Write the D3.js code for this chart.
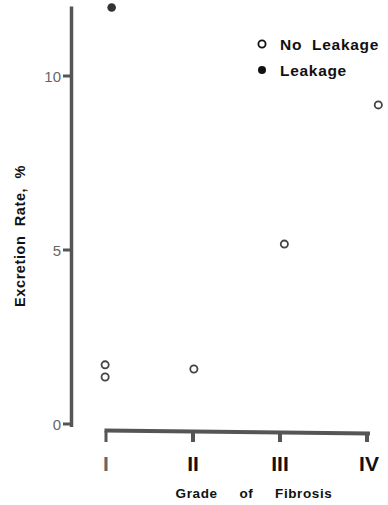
<!DOCTYPE html>
<html>
<head>
<meta charset="utf-8">
<script src="https://cdn.jsdelivr.net/npm/d3@7"></script>
<style>
  body { margin: 0; background: #fff; }
  svg { display: block; font-family: "Liberation Sans", Arial, sans-serif; }
</style>
</head>
<body>
<div id="chart"></div>
<script>
// grade labels
const grades = [1, 2, 3, 4];
const gradeLabels = ['I', 'II', 'III', 'IV'];
const yTicks = [0, 5, 10];

// No leakage points (grade position, excretion rate %)
const noLeakGrade = [0.99, 0.99, 2.01, 3.05, 4.13];
const noLeakRate = [1.70, 1.35, 1.58, 5.17, 9.17];

// Leakage points
const leakGrade = [1.065];
const leakRate = [11.97];

const W = 388, H = 505;
const svg = d3.select('#chart').append('svg').attr('width', W).attr('height', H);

const x = d3.scaleLinear().domain([1, 4]).range([106, 367]);
const y = d3.scaleLinear().domain([0, 10]).range([424, 76]);

const axisColor = '#555';

// Y axis line
svg.append('line')
  .attr('x1', 71.5).attr('x2', 71.5)
  .attr('y1', y(12)).attr('y2', y(0) + 3)
  .attr('stroke', axisColor).attr('stroke-width', 3.5);

// Y ticks
const yt = svg.append('g');
yt.selectAll('line').data(yTicks).enter().append('line')
  .attr('x1', 63).attr('x2', 72)
  .attr('y1', (d) => y(d)).attr('y2', (d) => y(d))
  .attr('stroke', axisColor).attr('stroke-width', 3);
yt.selectAll('text').data(yTicks).enter().append('text')
  .attr('x', 61).attr('y', (d) => y(d) + 5.5)
  .attr('text-anchor', 'end')
  .attr('font-size', '15px')
  .attr('fill', '#666')
  .text((d) => d);

// X axis line (slightly tilted, as in the print)
svg.append('line')
  .attr('x1', x(1) - 1.5).attr('y1', 430.5)
  .attr('x2', x(4) + 3).attr('y2', 433.5)
  .attr('stroke', axisColor).attr('stroke-width', 4);

// X ticks
svg.append('g').selectAll('line').data(grades).enter().append('line')
  .attr('x1', (d) => x(d)).attr('x2', (d) => x(d))
  .attr('y1', (d, i) => 431 + i * 1).attr('y2', 442)
  .attr('stroke', axisColor).attr('stroke-width', (d, i) => (i === 0 ? 3 : 4));

// X tick labels
svg.append('g').selectAll('text').data(grades).enter().append('text')
  .attr('x', (d) => x(d) + (d === 4 ? 2 : 0))
  .attr('y', 471)
  .attr('text-anchor', 'middle')
  .attr('font-size', '21px')
  .attr('font-weight', 'bold')
  .attr('fill', (d, i) => (i === 0 ? '#666' : '#111'))
  .text((d, i) => gradeLabels[i]);

// X axis title
svg.append('text')
  .attr('x', 254).attr('y', 498)
  .attr('text-anchor', 'middle')
  .attr('font-size', '13.5px')
  .attr('font-weight', 'bold')
  .attr('letter-spacing', '0.6px')
  .attr('fill', '#111')
  .style('white-space', 'pre')
  .text('Grade     of     Fibrosis');

// Y axis title
svg.append('text')
  .attr('transform', 'translate(25,236) rotate(-90)')
  .attr('text-anchor', 'middle')
  .attr('font-size', '14.5px')
  .attr('font-weight', 'bold')
  .attr('letter-spacing', '0.6px')
  .attr('fill', '#111')
  .style('white-space', 'pre')
  .text('Excretion  Rate,  %');

// Points
svg.append('g').selectAll('circle').data(noLeakGrade).enter().append('circle')
  .attr('cx', (d) => x(d))
  .attr('cy', (d, i) => y(noLeakRate[i]))
  .attr('r', 3.6)
  .attr('fill', 'none')
  .attr('stroke', '#444')
  .attr('stroke-width', 1.8);

svg.append('g').selectAll('circle').data(leakGrade).enter().append('circle')
  .attr('cx', (d) => x(d))
  .attr('cy', (d, i) => y(leakRate[i]))
  .attr('r', 4.3)
  .attr('fill', '#333');

// Legend
const legend = svg.append('g');
legend.append('circle').attr('cx', 262).attr('cy', 44).attr('r', 3.6)
  .attr('fill', 'none').attr('stroke', '#111').attr('stroke-width', 1.8);
legend.append('circle').attr('cx', 262).attr('cy', 70).attr('r', 4)
  .attr('fill', '#111');
legend.append('text').attr('x', 280).attr('y', 50)
  .attr('font-size', '15.5px').attr('font-weight', 'bold').attr('fill', '#111')
  .attr('letter-spacing', '0.7px')
  .style('white-space', 'pre')
  .text('No  Leakage');
legend.append('text').attr('x', 280).attr('y', 76)
  .attr('font-size', '15.5px').attr('font-weight', 'bold').attr('fill', '#111')
  .attr('letter-spacing', '0.7px')
  .text('Leakage');
</script>
</body>
</html>
